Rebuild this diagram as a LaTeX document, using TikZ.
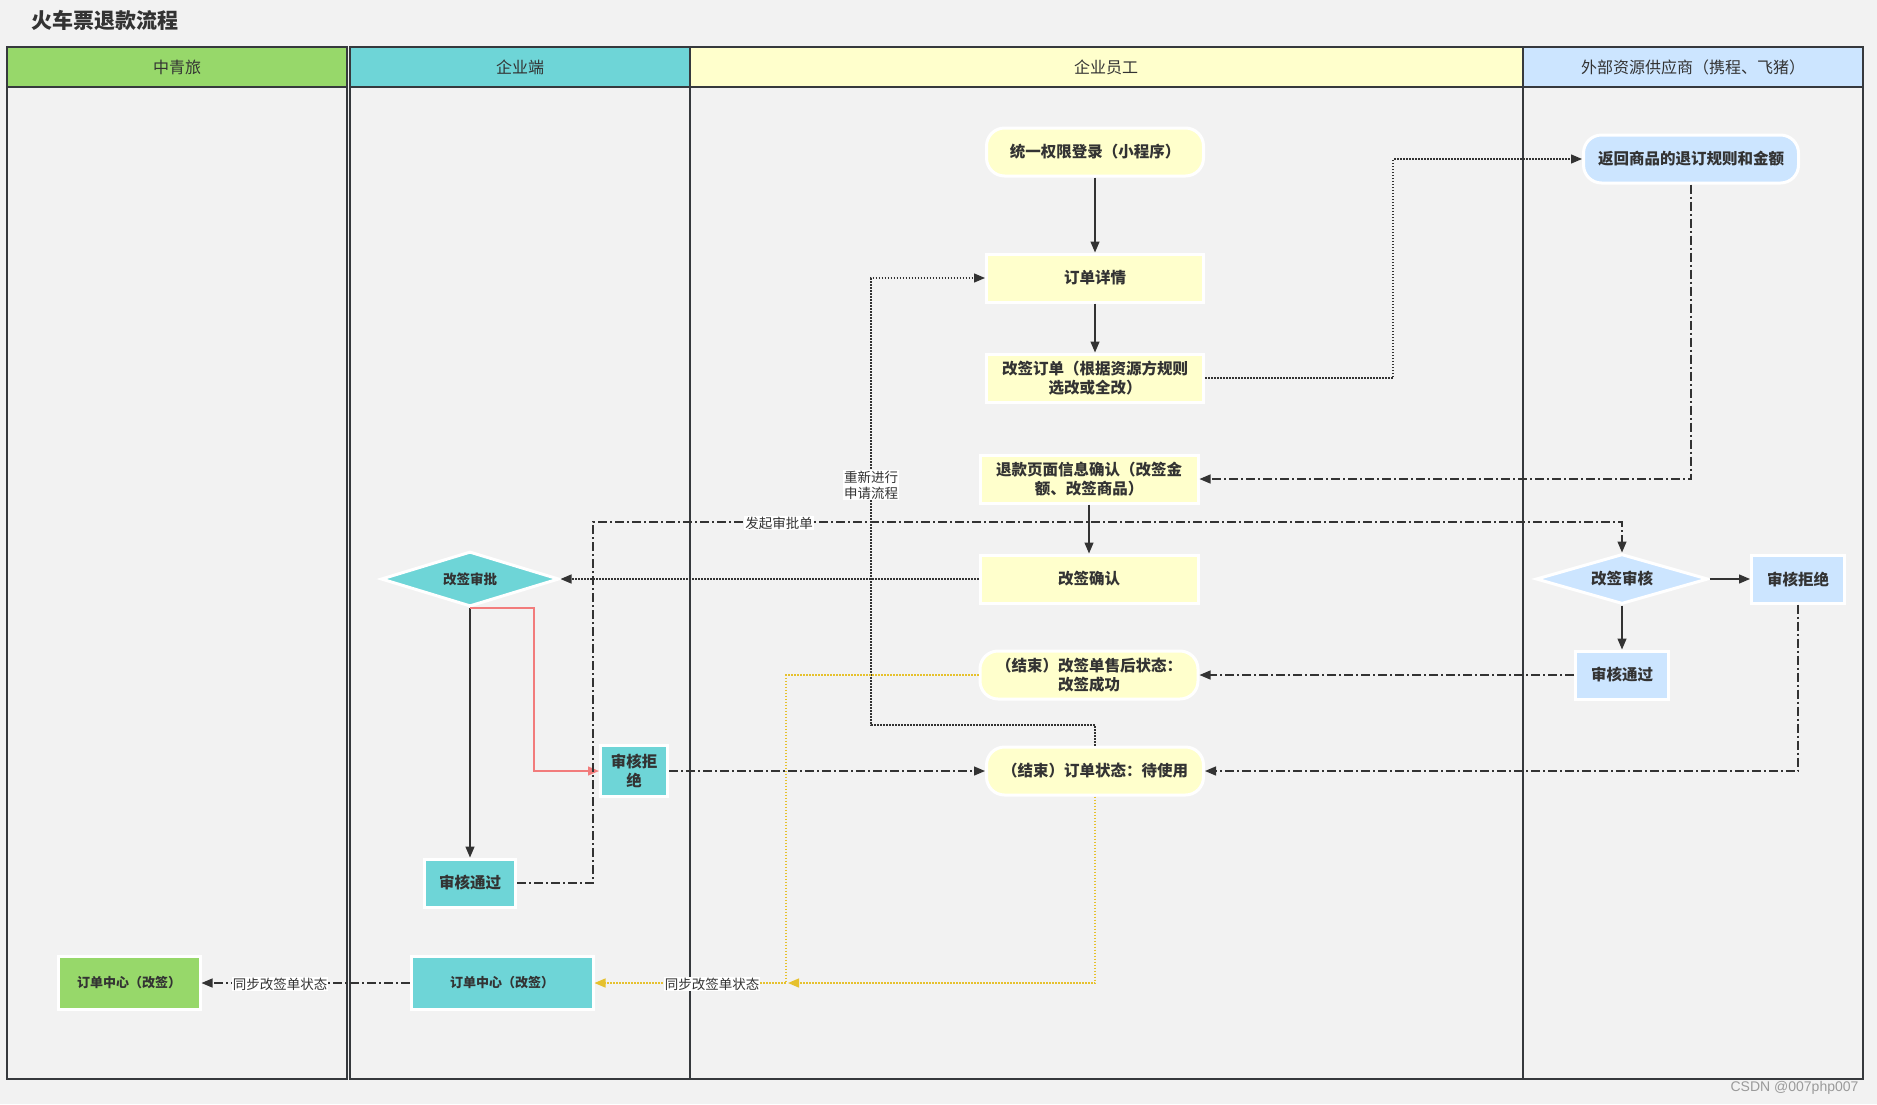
\documentclass[tikz,border=0pt]{standalone}
\usepackage{fontspec}
\setmainfont{Noto Sans CJK SC}
\newfontfamily\wmfont{Liberation Sans}
\usetikzlibrary{arrows.meta,shapes.geometric}
\definecolor{bgc}{HTML}{F2F2F2}
\definecolor{yel}{HTML}{FFFFCC}
\definecolor{blu}{HTML}{CCE5FF}
\definecolor{cya}{HTML}{6ED5D7}
\definecolor{grn}{HTML}{97D86A}
\definecolor{txt}{HTML}{333333}
\definecolor{lanec}{HTML}{36393D}
\definecolor{redl}{HTML}{F27C7C}
\definecolor{yell}{HTML}{E6C12E}
\definecolor{wmc}{HTML}{9A9A9A}
\tikzset{
  box/.style={draw=white, line width=3pt, fill=#1, text=txt, align=center, inner sep=2pt,
    font=\fontsize{15.5}{19}\selectfont\bfseries},
  smallbox/.style={box=#1, font=\fontsize{13}{16}\selectfont\bfseries},
  stadium/.style={box=#1, rounded corners=18pt},
  dia/.style={diamond, aspect=3.5, draw=white, line width=3pt, fill=#1, text=txt, inner sep=0pt,
    font=\fontsize{15.5}{19}\selectfont\bfseries},
  hdr/.style={text=txt, font=\fontsize{16}{19}\selectfont},
  lbl/.style={fill=white, text=txt, inner sep=1pt, align=center, font=\fontsize{13.5}{16}\selectfont},
  conn/.style={draw=txt, line width=1.3pt},
  arr/.style={conn, -{Triangle[length=11pt,width=9pt]}},
  dashdot/.style={dash pattern=on 9pt off 3pt on 2pt off 3pt},
  dots/.style={dash pattern=on 1.5pt off 1.5pt},
  lanebox/.style={draw=lanec, line width=2pt}
}
\begin{document}
\begin{tikzpicture}[x=1pt,y=-1pt]
\useasboundingbox (0,0) rectangle (1877,1104);
\fill[bgc] (0,0) rectangle (1877,1104);

% title
\node[anchor=west, text=txt, font=\fontsize{21}{25}\selectfont\bfseries] (title) at (28,20) {火车票退款流程};

% lanes
\draw[lanebox] (7,87) rectangle (347,1079);
\draw[lanebox, fill=grn] (7,47) rectangle (347,87);
\node[hdr] (h1) at (177,67) {中青旅};
\draw[lanebox] (350,87) rectangle (690,1079);
\draw[lanebox, fill=cya] (350,47) rectangle (690,87);
\node[hdr] (h2) at (520,67) {企业端};
\draw[lanebox] (690,87) rectangle (1523,1079);
\draw[lanebox, fill=yel] (690,47) rectangle (1523,87);
\node[hdr] (h3) at (1106,67) {企业员工};
\draw[lanebox] (1523,87) rectangle (1863,1079);
\draw[lanebox, fill=blu] (1523,47) rectangle (1863,87);
\node[hdr] (h4) at (1693,67) {外部资源供应商（携程、飞猪）};

% nodes: 企业员工
\node[stadium=yel, minimum width=217, minimum height=48] (login) at (1095,152) {统一权限登录（小程序）};
\node[box=yel, minimum width=217, minimum height=48] (detail) at (1095,278) {订单详情};
\node[box=yel, minimum width=217, minimum height=48] (chg) at (1095,378) {改签订单（根据资源方规则\\选改或全改）};
\node[box=yel, minimum width=218, minimum height=48] (conf) at (1089,479) {退款页面信息确认（改签金\\额、改签商品）};
\node[box=yel, minimum width=218, minimum height=48] (cc) at (1089,579) {改签确认};
\node[stadium=yel, minimum width=218, minimum height=48] (after) at (1089,675) {（结束）改签单售后状态：\\改签成功};
\node[stadium=yel, minimum width=217, minimum height=48] (status) at (1095,771) {（结束）订单状态：待使用};

% nodes: 供应商
\node[stadium=blu, minimum width=215, minimum height=48] (ret) at (1691,159) {返回商品的退订规则和金额};
\node[dia=blu, minimum width=172, minimum height=50] (auditB) at (1622,579) {改签审核};
\node[box=blu, minimum width=93, minimum height=48] (rejB) at (1798,579) {审核拒绝};
\node[box=blu, minimum width=93, minimum height=48] (passB) at (1622,675) {审核通过};

% nodes: 企业端
\node[dia=cya, minimum width=178, minimum height=55, font=\fontsize{13.5}{16}\selectfont\bfseries] (appr) at (470,579) {改签审批};
\node[box=cya, minimum width=67, minimum height=51, inner sep=1pt] (rejC) at (634,771) {审核拒\\绝};
\node[box=cya, minimum width=91, minimum height=48] (passC) at (470,883) {审核通过};
\node[smallbox=cya, minimum width=182, minimum height=53] (ocC) at (502,983) {订单中心（改签）};

% nodes: 中青旅
\node[smallbox=grn, minimum width=142, minimum height=53] (ocG) at (129,983) {订单中心（改签）};

% connectors
\draw[arr] (login) -- (detail);
\draw[arr] (detail) -- (chg);
\draw[arr, dots] (chg.east) -| (1393,159) -- (ret.west);
\draw[arr, dashdot] (ret.south) |- (conf.east);
\draw[arr] (conf) -- (cc);
\draw[arr, dots] (cc.west) -- (appr.east);
\draw[arr] (appr.south) -- (passC.north);
\draw[conn, draw=redl, -{Triangle[length=11pt,width=9pt]}] (appr.south) -- ++(64,0) |- (rejC.west);
\draw[arr, dashdot] (passC.east) -| (593,522) -| (auditB.north);
\node[lbl] (l1) at (779,523) {发起审批单};
\draw[arr] (auditB.east) -- (rejB.west);
\draw[arr] (auditB.south) -- (passB.north);
\draw[arr, dashdot] (passB.west) -- (after.east);
\draw[arr, dashdot] (rejB.south) |- (status.east);
\draw[arr, dashdot] (rejC.east) -- (status.west);
\draw[arr, dots] (status.north) |- (871,725) |- (detail.west);
\node[lbl] (l2) at (871,485) {重新进行\\申请流程};
\coordinate (ymerge) at (788,983);
\draw[conn, draw=yell, dots, -{Triangle[length=11pt,width=9pt]}] (status.south) |- (ymerge);
\draw[conn, draw=yell, dots, -{Triangle[length=11pt,width=9pt]}] (after.west) -| (786,983) -- (ocC.east);
\node[lbl] (l3) at (712,984) {同步改签单状态};
\draw[arr, dashdot] (ocC.west) -- (ocG.east);
\node[lbl] (l4) at (280,984) {同步改签单状态};

% watermark
\node[anchor=east, text=wmc, font=\wmfont\fontsize{14}{16}\selectfont] (wm) at (1862,1088) {CSDN @007php007};
\end{tikzpicture}
\end{document}
